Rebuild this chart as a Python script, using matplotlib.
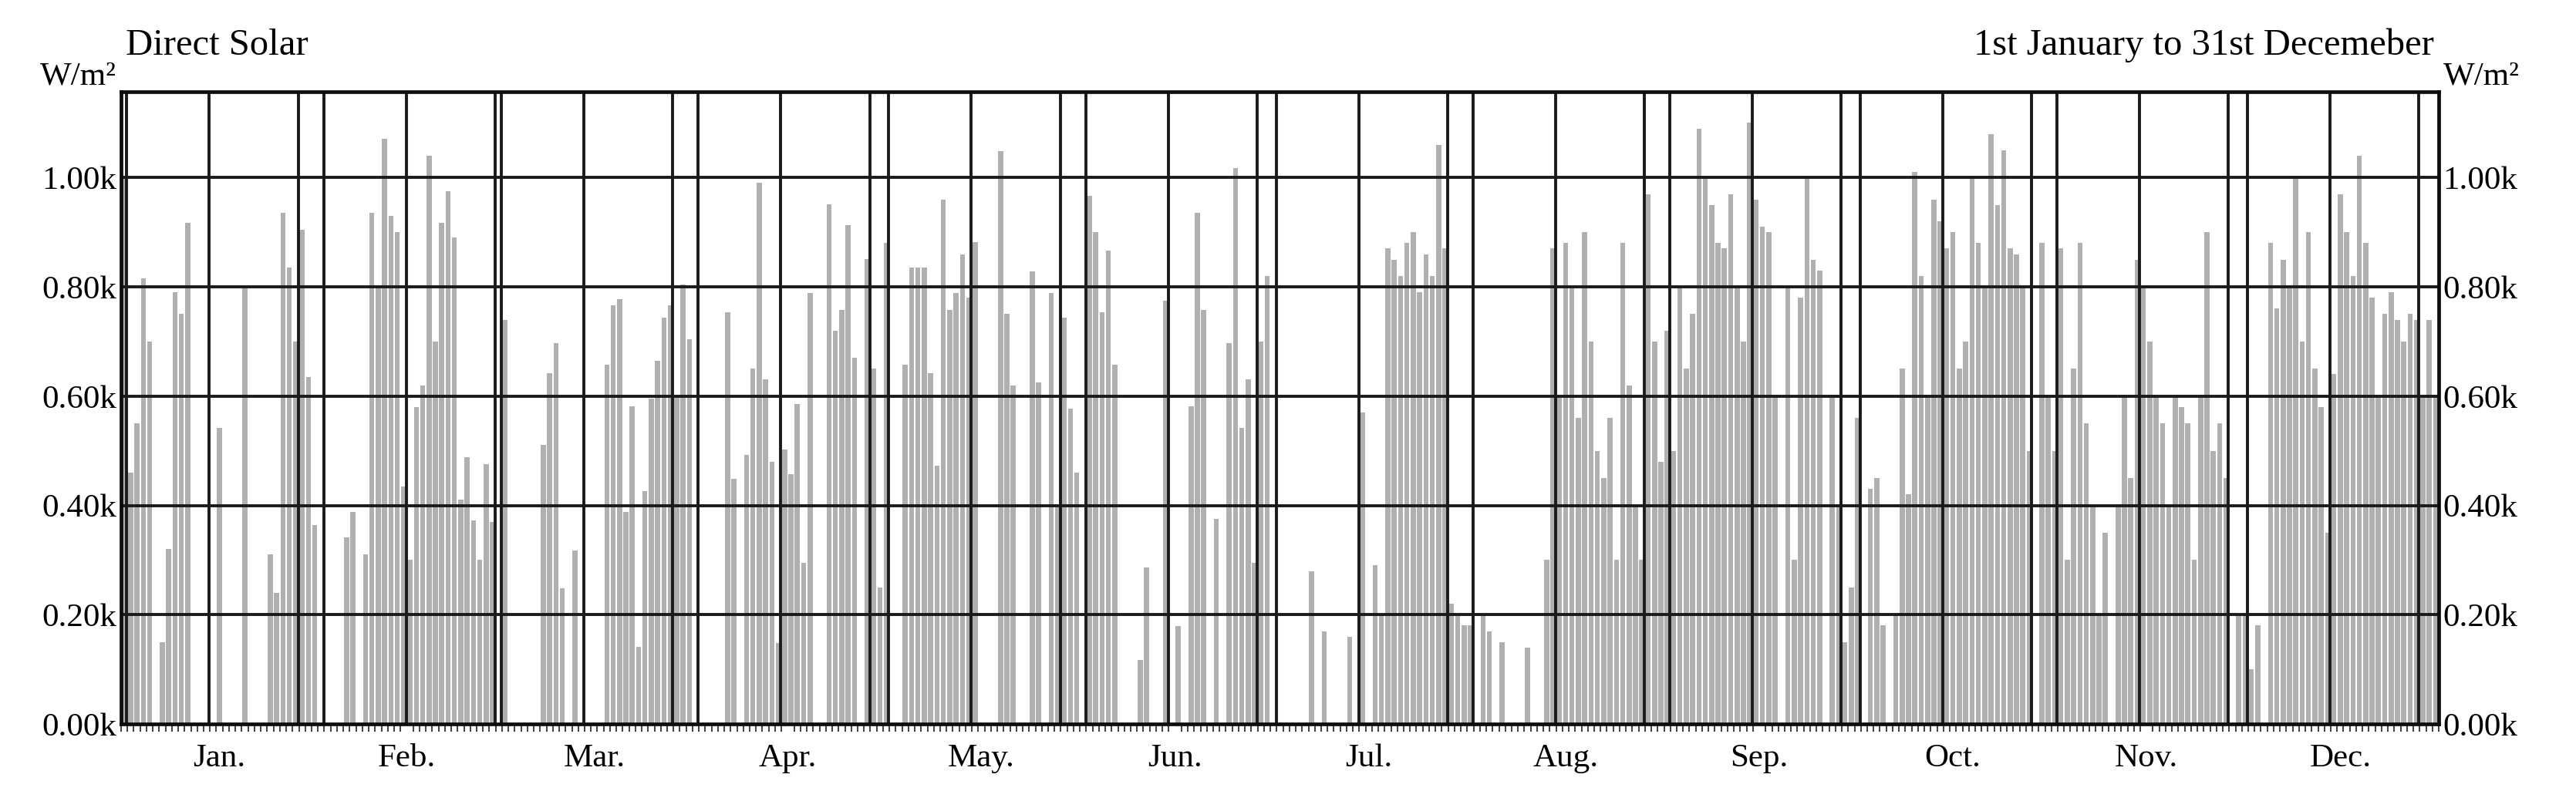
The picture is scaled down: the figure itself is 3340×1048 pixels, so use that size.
"""Direct Solar — hourly-chart lookalike, one bar per day (peak W/m2)."""

import numpy as np
import matplotlib

matplotlib.use("Agg")
import matplotlib.pyplot as plt

# daily peak direct solar, W/m2
jan = [1000, 460, 550, 816, 700, 0, 150, 320, 790, 750, 917, 0, 0, 0, 0, 542,
       0, 0, 0, 797, 0, 0, 0, 310, 240, 936, 835, 700, 905, 635, 364]
feb = [0, 0, 0, 0, 341, 388, 0, 310, 936, 800, 1071, 930, 900, 434, 300, 580,
       620, 1040, 700, 917, 975, 890, 411, 488, 372, 300, 476, 370]
mar = [0, 740, 0, 0, 0, 0, 0, 511, 642, 697, 249, 0, 318, 0, 0, 0, 0, 658, 766,
       778, 388, 581, 141, 426, 596, 664, 743, 766, 600, 805, 704]
apr = [0, 0, 0, 0, 0, 754, 449, 0, 492, 650, 990, 631, 480, 148, 503, 457, 585,
       295, 789, 0, 0, 951, 720, 758, 913, 670, 0, 851, 650, 250]
may = [880, 0, 0, 658, 836, 836, 836, 642, 473, 959, 758, 789, 859, 781, 882, 0,
       0, 0, 1048, 751, 619, 0, 0, 828, 625, 0, 789, 400, 743, 577, 460]
jun = [0, 967, 900, 754, 867, 658, 0, 0, 0, 117, 287, 0, 0, 774, 0, 179, 0, 581,
       936, 758, 0, 376, 0, 697, 1017, 542, 631, 295, 700, 820]
jul = [0, 0, 0, 0, 0, 0, 280, 0, 170, 0, 0, 0, 160, 0, 570, 0, 290, 200, 870,
       850, 820, 880, 900, 790, 860, 820, 1060, 870, 220, 200, 180]
aug = [180, 0, 200, 170, 0, 150, 0, 0, 0, 140, 0, 0, 300, 870, 600, 880, 800,
       560, 900, 700, 500, 450, 560, 300, 880, 620, 400, 300, 970, 700, 480]
sep = [720, 500, 800, 650, 750, 1090, 1000, 950, 880, 870, 970, 800, 700, 1100,
       960, 910, 900, 600, 0, 800, 300, 780, 1000, 850, 830, 0, 600, 400, 150, 250]
oct_ = [560, 0, 430, 450, 180, 0, 200, 650, 420, 1010, 820, 600, 960, 920, 870,
        900, 650, 700, 1000, 880, 800, 1080, 950, 1050, 870, 860, 800, 500, 0,
        880, 600]
nov = [500, 870, 300, 650, 880, 550, 400, 200, 350, 0, 400, 600, 450, 850, 800,
       700, 600, 550, 400, 600, 580, 550, 300, 600, 900, 500, 550, 450, 0, 200]
dec = [200, 100, 180, 0, 880, 760, 850, 800, 1000, 700, 900, 650, 580, 350, 640,
       970, 900, 820, 1040, 880, 780, 600, 750, 790, 740, 700, 750, 740, 600, 740,
       600]

month_names = ["Jan.", "Feb.", "Mar.", "Apr.", "May.", "Jun.",
               "Jul.", "Aug.", "Sep.", "Oct.", "Nov.", "Dec."]
y_ticks = [0, 200, 400, 600, 800, 1000]
grid_dom = [1, 14, 28]  # vertical grid lines: these day indexes of every month

months = [jan, feb, mar, apr, may, jun, jul, aug, sep, oct_, nov, dec]
values = np.concatenate([np.asarray(m, dtype=float) for m in months])
lengths = np.array([len(m) for m in months])
starts = np.concatenate([[0], np.cumsum(lengths)[:-1]])
n_days = int(lengths.sum())

plt.rcParams["font.family"] = ["Liberation Serif", "DejaVu Serif"]

fig = plt.figure(figsize=(33.4, 10.48), dpi=100)
ax = fig.add_axes([0.047, 0.104, 0.8997, 0.7824])

ax.bar(np.arange(n_days) + 0.5, values, width=0.8, color="#b0b0b0",
       linewidth=0, zorder=1)

ax.set_xlim(0, n_days)
ax.set_ylim(0, 1157)

grid_kw = dict(color="#1a1a1a", linewidth=2.8, zorder=3)
for s in starts:
    for d in grid_dom:
        x = s + d - 0.1
        if x < n_days - 0.5:
            ax.axvline(x, **grid_kw)
for v in y_ticks[1:]:
    ax.axhline(v, **grid_kw)

for sp in ax.spines.values():
    sp.set_linewidth(3.4)
    sp.set_color("#0d0d0d")
    sp.set_zorder(4)

ax.set_yticks(y_ticks)
ax.set_yticklabels([f"{v / 1000:.2f}k" for v in y_ticks])
ax.tick_params(axis="y", length=0, pad=4, labelsize=31,
               left=True, right=True, labelleft=True, labelright=True)

ax.set_xticks(starts + lengths / 2.0)
ax.set_xticklabels(month_names)
ax.set_xticks(np.arange(n_days + 1), minor=True)
ax.tick_params(axis="x", which="major", length=0, pad=18, labelsize=31)
ax.tick_params(axis="x", which="minor", length=7, width=1.2, color="#222222",
               direction="out")

ax.text(0.002, 1.058, "Direct Solar", transform=ax.transAxes, fontsize=35,
        ha="left", va="baseline")
ax.text(0.998, 1.058, "1st January to 31st Decemeber", transform=ax.transAxes,
        fontsize=35, ha="right", va="baseline")
ax.text(-0.002, 1.012, "W/m²", transform=ax.transAxes, fontsize=31,
        ha="right", va="baseline")
ax.text(1.002, 1.012, "W/m²", transform=ax.transAxes, fontsize=31,
        ha="left", va="baseline")

fig.savefig("out.png", dpi=100)
